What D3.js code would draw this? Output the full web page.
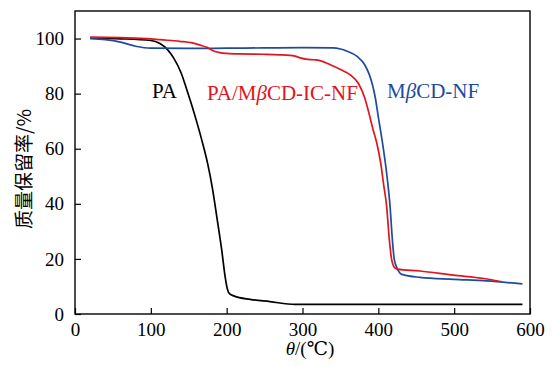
<!DOCTYPE html>
<html>
<head>
<meta charset="utf-8">
<script src="https://cdn.jsdelivr.net/npm/d3@7"></script>
<style>
  body { margin: 0; background: #fff; }
  svg { display: block; }
  .tick text { font-family: "Liberation Serif", "DejaVu Serif", serif; font-size: 19px; fill: #000; }
  .tick line { stroke: #000; stroke-width: 1.2; }
</style>
</head>
<body>
<div id="chart"></div>
<script>
// temperature (°C) and mass retention (%)
var paTemp = [20, 60, 100, 112, 122, 130, 140, 147, 154, 161, 168, 175, 181, 187, 193.5, 198, 201, 204, 210, 231, 257, 290, 590]
var paMass = [100.1, 99.9, 99.3, 98.2, 96, 93, 87.5, 81.8, 75.8, 69.3, 62.3, 54.5, 46, 35.3, 23.2, 13.5, 9, 7.3, 6.5, 5.3, 4.5, 3.5, 3.5]

var icTemp = [20, 60, 100, 112, 138, 155, 165, 174, 182, 191, 200, 217, 248, 270, 290, 297, 305, 315, 323, 336, 350, 363, 374, 382, 388, 393, 398, 403, 407, 411, 414.5, 417.5, 421, 425, 455, 499, 539, 563]
var icMass = [100.5, 100.3, 99.9, 99.6, 99, 98.4, 97.6, 96.8, 95.6, 94.9, 94.6, 94.4, 94.3, 94.1, 93.6, 93, 92.5, 92.3, 92, 90.6, 88.8, 86.8, 83.6, 78.5, 72.5, 67, 62, 55, 47, 39, 27, 19.8, 17, 16.3, 15.6, 14.1, 12.9, 11.7]

var cdTemp = [20, 40, 60, 80, 100, 150, 200, 250, 300, 340, 350, 358, 372, 382, 388, 392, 396, 400, 405, 411, 415.5, 418.5, 421, 425, 431, 455, 500, 543, 590]
var cdMass = [100, 99.6, 98.7, 97.2, 96.5, 96.4, 96.5, 96.6, 96.7, 96.6, 96.2, 95.5, 93.5, 90.5, 87, 83.5, 78.5, 71.5, 63, 51, 39, 27, 19.8, 16.5, 14.4, 13.3, 12.6, 12, 10.9]

var xTicks = [0, 100, 200, 300, 400, 500, 600]
var yTicks = [0, 20, 40, 60, 80, 100]

var margin = { top: 11, left: 75, bottom: 53, right: 22 }
var W = 552, H = 367
var width = W - margin.left - margin.right
var height = H - margin.top - margin.bottom

var svg = d3.select("#chart").append("svg")
	.attr("width", W)
	.attr("height", H)
var g = svg.append("g")
	.attr("transform", "translate(" + margin.left + "," + margin.top + ")")

var x = d3.scaleLinear().domain([0, 600]).range([0, width])
var y = d3.scaleLinear().domain([0, 110]).range([height, 0])

var xAxis = g.append("g")
	.attr("transform", "translate(0," + height + ")")
	.call(d3.axisBottom(x).tickValues(xTicks).tickSizeInner(-6).tickSizeOuter(0).tickPadding(9))
xAxis.select(".domain").remove()

var yAxis = g.append("g")
	.call(d3.axisLeft(y).tickValues(yTicks).tickSizeInner(-6).tickSizeOuter(0).tickPadding(11))
yAxis.select(".domain").remove()

// frame
g.append("rect")
	.attr("x", 0).attr("y", 0)
	.attr("width", width).attr("height", height)
	.attr("fill", "none")
	.attr("stroke", "#000")
	.attr("stroke-width", 1.4)

var line = d3.line()
	.x(function(d) { return x(d[0]) })
	.y(function(d) { return y(d[1]) })
	.curve(d3.curveMonotoneX)

var series = [
	{ t: paTemp, m: paMass, color: "#000000" },
	{ t: cdTemp, m: cdMass, color: "#1d4c9c" },
	{ t: icTemp, m: icMass, color: "#e2141e" }
]
series.forEach(function(s) {
	g.append("path")
		.datum(d3.zip(s.t, s.m))
		.attr("d", line)
		.attr("fill", "none")
		.attr("stroke", s.color)
		.attr("stroke-width", 1.7)
})

// curve labels
var serif = '"Liberation Serif", "DejaVu Serif", serif'
svg.append("text").attr("x", 152).attr("y", 98)
	.attr("font-family", serif).attr("font-size", 21).attr("fill", "#000")
	.text("PA")

var t2 = svg.append("text").attr("x", 207).attr("y", 100)
	.attr("font-family", serif).attr("font-size", 21).attr("fill", "#e2141e")
t2.append("tspan").text("PA/M")
t2.append("tspan").attr("font-style", "italic").text("β")
t2.append("tspan").text("CD-IC-NF")

var t3 = svg.append("text").attr("x", 387).attr("y", 98)
	.attr("font-family", serif).attr("font-size", 21).attr("fill", "#1d4c9c")
t3.append("tspan").text("M")
t3.append("tspan").attr("font-style", "italic").text("β")
t3.append("tspan").text("CD-NF")

// axis titles
var xt = svg.append("text").attr("x", 310).attr("y", 355)
	.attr("text-anchor", "middle")
	.attr("font-family", serif).attr("font-size", 19).attr("fill", "#000")
xt.append("tspan").attr("font-style", "italic").text("θ")
xt.append("tspan").text("/(℃)")

svg.append("text")
	.attr("transform", "translate(31,169) rotate(-90)")
	.attr("text-anchor", "middle")
	.attr("font-family", '"Noto Sans CJK SC", sans-serif')
	.attr("font-size", 19)
	.attr("fill", "#000")
	.text("质量保留率/%")
</script>
</body>
</html>
